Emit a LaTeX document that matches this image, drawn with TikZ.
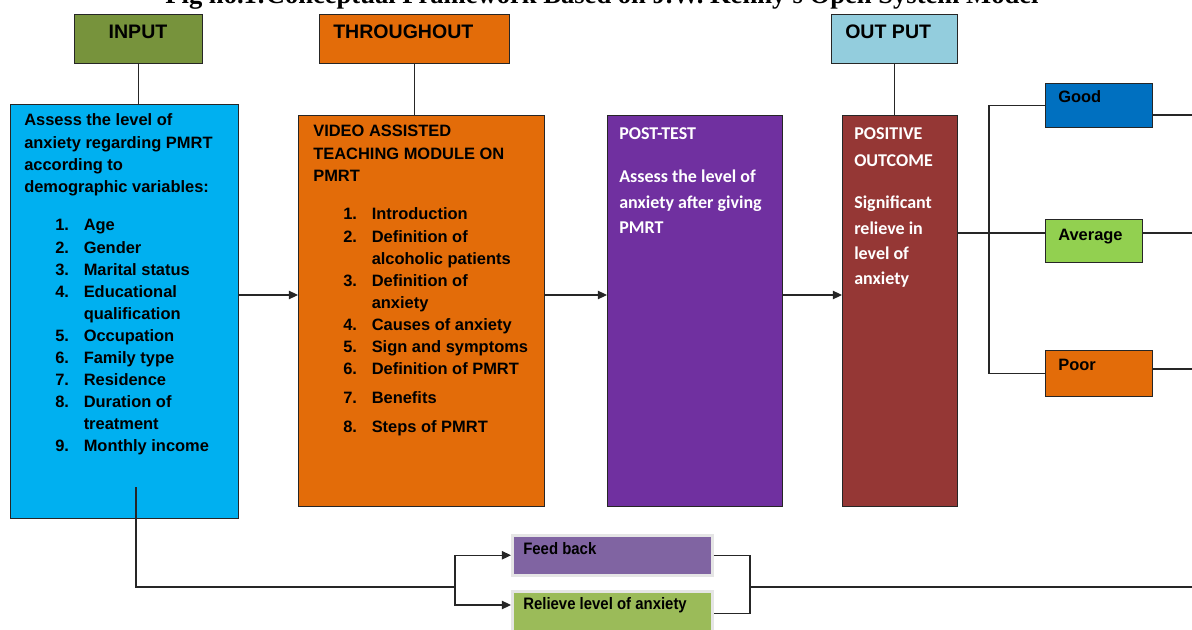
\documentclass[tikz,border=0pt]{standalone}
\usepackage{fontspec}
\setmainfont{Liberation Sans}
\newfontfamily\titlefont{Liberation Serif}
\newfontfamily\calfont{Carlito}
\newfontfamily\narrowfont[FakeStretch=0.9]{Liberation Sans}
\usetikzlibrary{arrows.meta,calc}

\definecolor{inputgreen}{HTML}{77933C}
\definecolor{assessblue}{HTML}{00B0F0}
\definecolor{teachorange}{HTML}{E36C09}
\definecolor{postpurple}{HTML}{7030A0}
\definecolor{outbrown}{HTML}{953735}
\definecolor{outcyan}{HTML}{93CDDD}
\definecolor{goodblue}{HTML}{0070C0}
\definecolor{avggreen}{HTML}{92D050}
\definecolor{fbpurple}{HTML}{8064A2}
\definecolor{relgreen}{HTML}{9BBB59}

\newcommand\bodyfont{\bfseries\fontsize{11.7}{15.65}\selectfont}
\newcommand\headfont{\bfseries\fontsize{13.9}{16}\selectfont}
\newcommand\calbody{\calfont\bfseries\fontsize{12.8}{17.8}\selectfont}
\newcommand\fbfont{\narrowfont\bfseries\fontsize{11.8}{14}\selectfont}

\begin{document}
\begin{tikzpicture}[x=0.025cm,y=-0.025cm,
    box/.style={draw=black!85,line width=0.8pt,inner sep=0pt,anchor=north west},
    size/.style 2 args={minimum width=#1*0.025cm,minimum height=#2*0.025cm},
    glowbox/.style={box,draw=black!10,line width=1.8pt},
    link/.style={draw=black!85,line width=0.8pt},
    arr/.style={link,-{Triangle[length=6.5pt,width=6pt]}},
    txt/.style={anchor=base west,inner sep=0pt,font=\bodyfont},
    head/.style={anchor=base west,inner sep=0pt,font=\headfont},
    caltxt/.style={anchor=base west,inner sep=0pt,font=\calbody,text=white}]
\useasboundingbox (0,0) rectangle (1192,630);

% title, cut at the top edge
\node[anchor=base,inner sep=0pt,font=\titlefont\bfseries\fontsize{18.9}{20}\selectfont] (title) at (602,4)
  {Fig no.1:Conceptual Framework Based on J.W. Kenny's Open System Model};

% header boxes
\node[box,fill=inputgreen,size={128}{49}] (input) at (74,14) {};
\node[box,fill=teachorange,size={190}{49}] (through) at (319,14) {};
\node[box,fill=outcyan,size={126}{49}] (outp) at (831,14) {};
\node[head,anchor=base] (inputlbl) at (138,39) {INPUT};
\node[head] (throughlbl) at (333,39) {THROUGHOUT};
\node[head] (outplbl) at (845,39) {OUT PUT};

% main boxes
\node[box,fill=assessblue,size={228}{414}] (assess) at (10,104) {};
\node[box,fill=teachorange,size={246}{391}] (module) at (298,115) {};
\node[box,fill=postpurple,size={175}{391}] (post) at (607,115) {};
\node[box,fill=outbrown,size={115}{391}] (outcome) at (842,115) {};

% grading boxes
\node[box,fill=goodblue,size={107}{44}] (good) at (1045,83) {};
\node[box,fill=avggreen,size={97}{43}] (average) at (1045,219) {};
\node[box,fill=teachorange,size={107}{46}] (poor) at (1045,350) {};
\node[txt] (goodlbl) at (1058,103) {Good};
\node[txt] (averagelbl) at (1058,241) {Average};
\node[txt] (poorlbl) at (1058,370) {Poor};

% feedback boxes
\node[glowbox,fill=fbpurple,size={200}{40}] (feedback) at (511,534) {};
\node[glowbox,fill=relgreen,size={200}{45}] (relieve) at (511,590) {};
\node[anchor=base west,inner sep=0pt,font=\fbfont] (feedbacklbl) at (523,554) {Feed back};
\node[anchor=base west,inner sep=0pt,font=\fbfont] (relievelbl) at (523,609) {Relieve level of anxiety};

% input text
\node[txt] (assesshead) at (24,126) {\begin{tabular}[t]{@{}l@{}}
  Assess the level of\\ anxiety regarding PMRT\\ according to\\ demographic variables:\end{tabular}};
\node[txt] (assesslist) at (55,231) {\begin{tabular}[t]{@{}r@{\hspace{10.5pt}}l@{}}
  1. & Age\\ 2. & Gender\\ 3. & Marital status\\ 4. & Educational\\ & qualification\\
  5. & Occupation\\ 6. & Family type\\ 7. & Residence\\ 8. & Duration of\\ & treatment\\
  9. & Monthly income\end{tabular}};

% throughput text
\node[txt] (modulehead) at (313,137) {\begin{tabular}[t]{@{}l@{}}
  VIDEO ASSISTED\\ TEACHING MODULE ON\\ PMRT\end{tabular}};
\node[txt] (modulelist) at (343,220) {\begin{tabular}[t]{@{}r@{\hspace{10.5pt}}l@{}}
  1. & Introduction\\ 2. & Definition of\\ & alcoholic patients\\ 3. & Definition of\\ & anxiety\\
  4. & Causes of anxiety\\ 5. & Sign and symptoms\\ 6. & Definition of PMRT\\[5pt]
  7. & Benefits\\[5pt] 8. & Steps of PMRT\end{tabular}};

% output text
\node[caltxt] (posthead) at (619,140) {POST-TEST};
\node[caltxt] (posttext) at (619,183) {\begin{tabular}[t]{@{}l@{}}
  Assess the level of\\ anxiety after giving\\ PMRT\end{tabular}};
\node[caltxt] (outcomehead) at (854,140) {POSITIVE};
\node[caltxt] (outcomehead2) at (854,167) {OUTCOME};
\node[caltxt] (outcometext) at (854,209) {\begin{tabular}[t]{@{}l@{}}
  Significant\\ relieve in\\ level of\\ anxiety\end{tabular}};

% connectors
\coordinate (mid) at (0,295);
\coordinate (split) at (989,233);
\coordinate (rgood) at (1192,115);
\coordinate (ravg) at (1192,233);
\coordinate (rpoor) at (1192,369);
\coordinate (fbstart) at (136,487);
\coordinate (fbturn) at (136,587);
\coordinate (fbsplit) at (455,587);
\coordinate (fbjoin) at (750,587);
\coordinate (rfb) at (1192,587);

\draw[link] (input.south) -- (input.south |- assess.north);
\draw[link] (through.south) -- (through.south |- module.north);
\draw[link] (outp.south) -- (outp.south |- outcome.north);
\draw[arr] (assess.east |- mid) -- (module.west |- mid);
\draw[arr] (module.east |- mid) -- (post.west |- mid);
\draw[arr] (post.east |- mid) -- (outcome.west |- mid);
\draw[link] (outcome.east |- split) -- (average.west |- split);
\draw[link] (good.west) -| (split) |- (poor.west);
\draw[link] (good.east |- rgood) -- (rgood);
\draw[link] (average.east |- ravg) -- (ravg);
\draw[link] (poor.east |- rpoor) -- (rpoor);
\draw[link] (fbstart) -- (fbturn) -- (fbsplit);
\draw[arr] (fbsplit) |- (feedback.west);
\draw[arr] (fbsplit) |- ($(relieve.north west)+(0,15)$);
\draw[link] (feedback.east) -| (fbjoin) |- (relieve.east);
\draw[link] (fbjoin) -- (rfb);
\end{tikzpicture}
\end{document}
